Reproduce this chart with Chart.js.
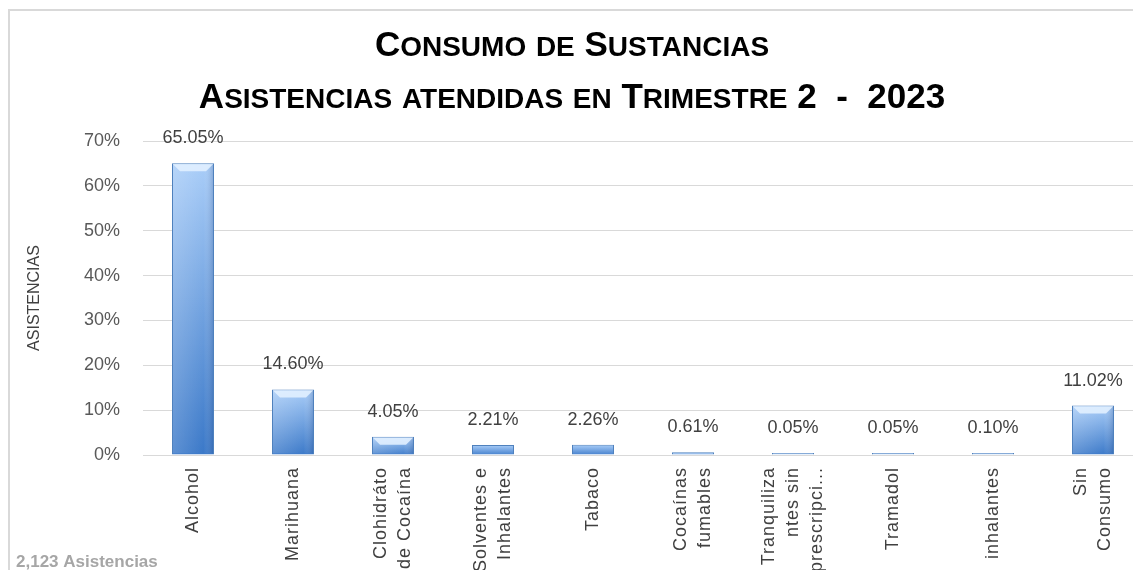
<!DOCTYPE html>
<html lang="es">
<head>
<meta charset="utf-8">
<title>Consumo de Sustancias</title>
<script src="https://cdn.jsdelivr.net/npm/chart.js@4.4.1/dist/chart.umd.min.js"></script>
<style>
  html, body { margin: 0; padding: 0; background: #fff; overflow: hidden; }
  #wrap { width: 1133px; height: 570px; overflow: hidden; }
</style>
</head>
<body>
<div id="wrap"><canvas id="grafico" width="1160" height="570"></canvas></div>
<script>
// Datos
const categorias = [
  ['Alcohol'],
  ['Marihuana'],
  ['Clohidráto', 'de Cocaína'],
  ['Solventes e', 'Inhalantes'],
  ['Tabaco'],
  ['Cocaínas', 'fumables'],
  ['Tranquiliza', 'ntes sin', 'prescripci...'],
  ['Tramadol'],
  ['inhalantes'],
  ['Sin', 'Consumo']
];
const porcentajes = [65.05, 14.60, 4.05, 2.21, 2.26, 0.61, 0.05, 0.05, 0.10, 11.02];
const titulo = ['Consumo de Sustancias', 'Asistencias atendidas en Trimestre 2  -  2023'];
const totalTexto = '2,123 Asistencias';

const FUENTE = '"Liberation Sans", Arial, sans-serif';

// Texto en versalitas (mayúsculas pequeñas para las minúsculas)
function versalitas(ctx, texto, cx, base, tam, razon) {
  const partes = [];
  for (const ch of texto) {
    const chica = ch !== ch.toUpperCase();
    const ult = partes[partes.length - 1];
    if (ult && ult.chica === chica) ult.t += ch; else partes.push({ t: ch, chica });
  }
  const fuente = p => `bold ${p.chica ? tam * razon : tam}px ${FUENTE}`;
  let total = 0;
  partes.forEach(p => {
    ctx.font = fuente(p);
    p.w = ctx.measureText(p.t.toUpperCase()).width;
    total += p.w;
  });
  let x = cx - total / 2;
  partes.forEach(p => {
    ctx.font = fuente(p);
    ctx.fillText(p.t.toUpperCase(), x, base);
    x += p.w;
  });
}

const decoracion = {
  id: 'decoracion',
  beforeDraw(chart) {
    const ctx = chart.ctx;
    ctx.save();
    ctx.strokeStyle = '#d9d9d9';
    ctx.lineWidth = 2;
    ctx.strokeRect(9, 10, 1300, 700);
    ctx.restore();
  },
  afterDatasetsDraw(chart) {
    const ctx = chart.ctx;
    const meta = chart.getDatasetMeta(0);
    ctx.save();
    meta.data.forEach((bar, i) => {
      const w = bar.width;
      const izq = bar.x - w / 2;
      const alto = bar.base - bar.y;
      if (alto > 12) {
        // sombreado lateral
        const g = ctx.createLinearGradient(izq, 0, izq + w, 0);
        g.addColorStop(0, 'rgba(255,255,255,0.18)');
        g.addColorStop(0.75, 'rgba(255,255,255,0)');
        g.addColorStop(1, 'rgba(20,50,110,0.25)');
        ctx.fillStyle = g;
        ctx.fillRect(izq + 1, bar.y + 1, w - 2, alto - 2);
        // bisel superior
        ctx.fillStyle = 'rgba(225,240,255,0.9)';
        ctx.beginPath();
        ctx.moveTo(izq + 1, bar.y + 1);
        ctx.lineTo(izq + w - 1, bar.y + 1);
        ctx.lineTo(izq + w - 8, bar.y + 8);
        ctx.lineTo(izq + 8, bar.y + 8);
        ctx.closePath();
        ctx.fill();
      }
      // etiqueta de valor
      ctx.fillStyle = '#404040';
      ctx.font = `18px ${FUENTE}`;
      ctx.textAlign = 'center';
      ctx.textBaseline = 'middle';
      ctx.fillText(porcentajes[i].toFixed(2) + '%', bar.x, bar.y - 25);
    });
    ctx.restore();
  },
  afterDraw(chart) {
    const ctx = chart.ctx;
    const x = chart.scales.x;
    ctx.save();
    // títulos
    ctx.fillStyle = '#000';
    ctx.textBaseline = 'alphabetic';
    ctx.textAlign = 'left';
    versalitas(ctx, titulo[0], 572, 56, 35, 0.8);
    versalitas(ctx, titulo[1], 572, 108, 35, 0.8);
    // etiquetas de categoría, giradas y centradas en cada marca
    ctx.fillStyle = '#404040';
    ctx.font = `18px ${FUENTE}`;
    ctx.letterSpacing = '1px';
    ctx.textAlign = 'right';
    ctx.textBaseline = 'middle';
    const lh = 24;
    categorias.forEach((lineas, i) => {
      const px = x.getPixelForTick(i);
      lineas.forEach((t, j) => {
        ctx.save();
        ctx.translate(px + (j - (lineas.length - 1) / 2) * lh, x.top + 12);
        ctx.rotate(-Math.PI / 2);
        ctx.fillText(t, 0, 0);
        ctx.restore();
      });
    });
    ctx.letterSpacing = '0px';
    // total
    ctx.fillStyle = '#a6a6a6';
    ctx.font = `bold 17px ${FUENTE}`;
    ctx.textAlign = 'left';
    ctx.textBaseline = 'alphabetic';
    ctx.fillText(totalTexto, 16, 567);
    ctx.restore();
  }
};

new Chart(document.getElementById('grafico'), {
  type: 'bar',
  data: {
    labels: categorias,
    datasets: [{
      data: porcentajes,
      backgroundColor: c => {
        const chart = c.chart;
        if (!chart.chartArea) return '#6a9ee0';
        const y = chart.scales.y;
        const arriba = y.getPixelForValue(porcentajes[c.dataIndex]);
        const abajo = y.getPixelForValue(0);
        const g = chart.ctx.createLinearGradient(0, arriba, 0, abajo + 1);
        g.addColorStop(0, '#a9cdf8');
        g.addColorStop(1, '#3a78c8');
        return g;
      },
      borderColor: '#4f81bd',
      borderWidth: 1,
      minBarLength: 2,
      barPercentage: 0.42,
      categoryPercentage: 1
    }]
  },
  options: {
    responsive: false,
    animation: false,
    layout: { padding: { top: 141, left: 0, right: 17, bottom: 0 } },
    plugins: {
      legend: { display: false },
      tooltip: { enabled: false }
    },
    scales: {
      x: {
        grid: { display: false },
        border: { display: false },
        ticks: { display: false },
        afterFit: s => { s.height = 115; }
      },
      y: {
        min: 0,
        max: 70,
        border: { display: false },
        grid: { color: '#d9d9d9', lineWidth: 1, drawTicks: false },
        ticks: {
          stepSize: 10,
          padding: 23,
          color: '#595959',
          font: { family: FUENTE, size: 18 },
          callback: v => v + '%'
        },
        title: {
          display: true,
          text: 'ASISTENCIAS',
          color: '#404040',
          font: { family: FUENTE, size: 16 },
          padding: { top: 25, bottom: 0 }
        },
        afterFit: s => { s.width = 143; }
      }
    }
  },
  plugins: [decoracion]
});
</script>
</body>
</html>
